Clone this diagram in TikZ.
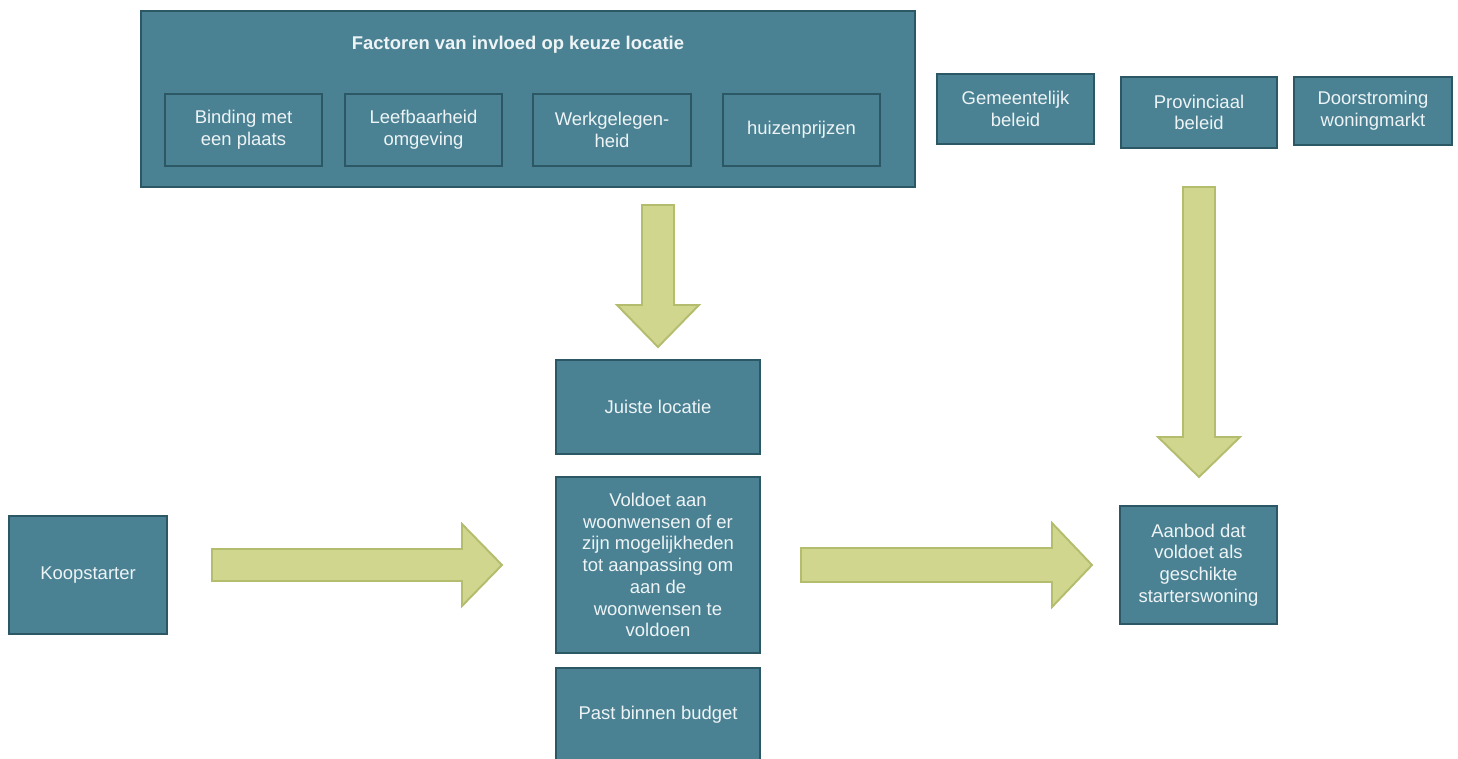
\documentclass[tikz,border=0pt]{standalone}
\usepackage{fontspec}
\setmainfont{Liberation Sans}
\usepackage{xcolor}
\usepackage{tikz}
\usetikzlibrary{arrows.meta}
\usetikzlibrary{calc}
\usetikzlibrary{positioning}

\definecolor{tealfill}{RGB}{74,130,148}
\definecolor{tealline}{RGB}{44,88,102}
\definecolor{greenfill}{RGB}{208,214,142}
\definecolor{greenline}{RGB}{180,189,110}
\definecolor{boxtext}{RGB}{238,244,245}

\begin{document}
\begin{tikzpicture}[x=0.02cm, y=-0.02cm,
    box/.style={draw=tealline, fill=tealfill, line width=1.4pt, text=boxtext,
      align=center, inner sep=0pt, font=\fontsize{10.5}{12.4}\selectfont},
    blockarrow/.style={draw=greenline, fill=greenfill, line width=1.1pt, line join=miter}]
    \clip (0,0) rectangle (1458,758);
    \fill[white] (0,0) rectangle (1458,758);

    % factoren
    \node[box, minimum width=15.48cm, minimum height=3.52cm] (F) at (528,99) {};
    \node[text=boxtext, font=\bfseries\fontsize{10.5}{12.4}\selectfont] (Ft) at (518,45) {Factoren van invloed op keuze locatie};
    \node[box, minimum width=3.14cm, minimum height=1.44cm] (F1) at (243.5,130) {Binding met\\een plaats};
    \node[box, minimum width=3.14cm, minimum height=1.44cm] (F2) at (423.5,130) {Leefbaarheid\\omgeving};
    \node[box, minimum width=3.16cm, minimum height=1.44cm] (F3) at (612,130) {Werkgelegen-\\heid};
    \node[box, minimum width=3.14cm, minimum height=1.44cm] (F4) at (801.5,130) {huizenprijzen};

    % beleid
    \node[box, minimum width=3.14cm, minimum height=1.40cm] (G) at (1015.5,109) {Gemeentelijk\\beleid};
    \node[box, minimum width=3.12cm, minimum height=1.42cm] (P) at (1199,112.5) {Provinciaal\\beleid};
    \node[box, minimum width=3.16cm, minimum height=1.36cm] (D) at (1373,111) {Doorstroming\\woningmarkt};

    % midden
    \node[box, minimum width=4.08cm, minimum height=1.88cm] (J) at (658,407) {Juiste locatie};
    \node[box, minimum width=4.08cm, minimum height=3.52cm] (V) at (658,565) {Voldoet aan\\woonwensen of er\\zijn mogelijkheden\\tot aanpassing om\\aan de\\woonwensen te\\voldoen};
    \node[box, minimum width=4.08cm, minimum height=1.88cm] (B) at (658,715) {Past binnen budget};

    \node[box, minimum width=3.16cm, minimum height=2.36cm] (K) at (88,575) {Koopstarter};
    \node[box, minimum width=3.14cm, minimum height=2.36cm] (A) at (1198.5,565) {Aanbod dat\\voldoet als\\geschikte\\starterswoning};

    % pijlen
    \draw[blockarrow] (642,205) -- (674,205) -- (674,305) -- (699,305) -- (658,347) -- (617,305) -- (642,305) -- cycle;
    \draw[blockarrow] (1183,187) -- (1215,187) -- (1215,437) -- (1240,437) -- (1199,477) -- (1158,437) -- (1183,437) -- cycle;
    \draw[blockarrow] (212,549) -- (462,549) -- (462,524) -- (502,565) -- (462,606) -- (462,581) -- (212,581) -- cycle;
    \draw[blockarrow] (801,548) -- (1052,548) -- (1052,523) -- (1092,565) -- (1052,607) -- (1052,582) -- (801,582) -- cycle;
  \end{tikzpicture}
\end{document}
